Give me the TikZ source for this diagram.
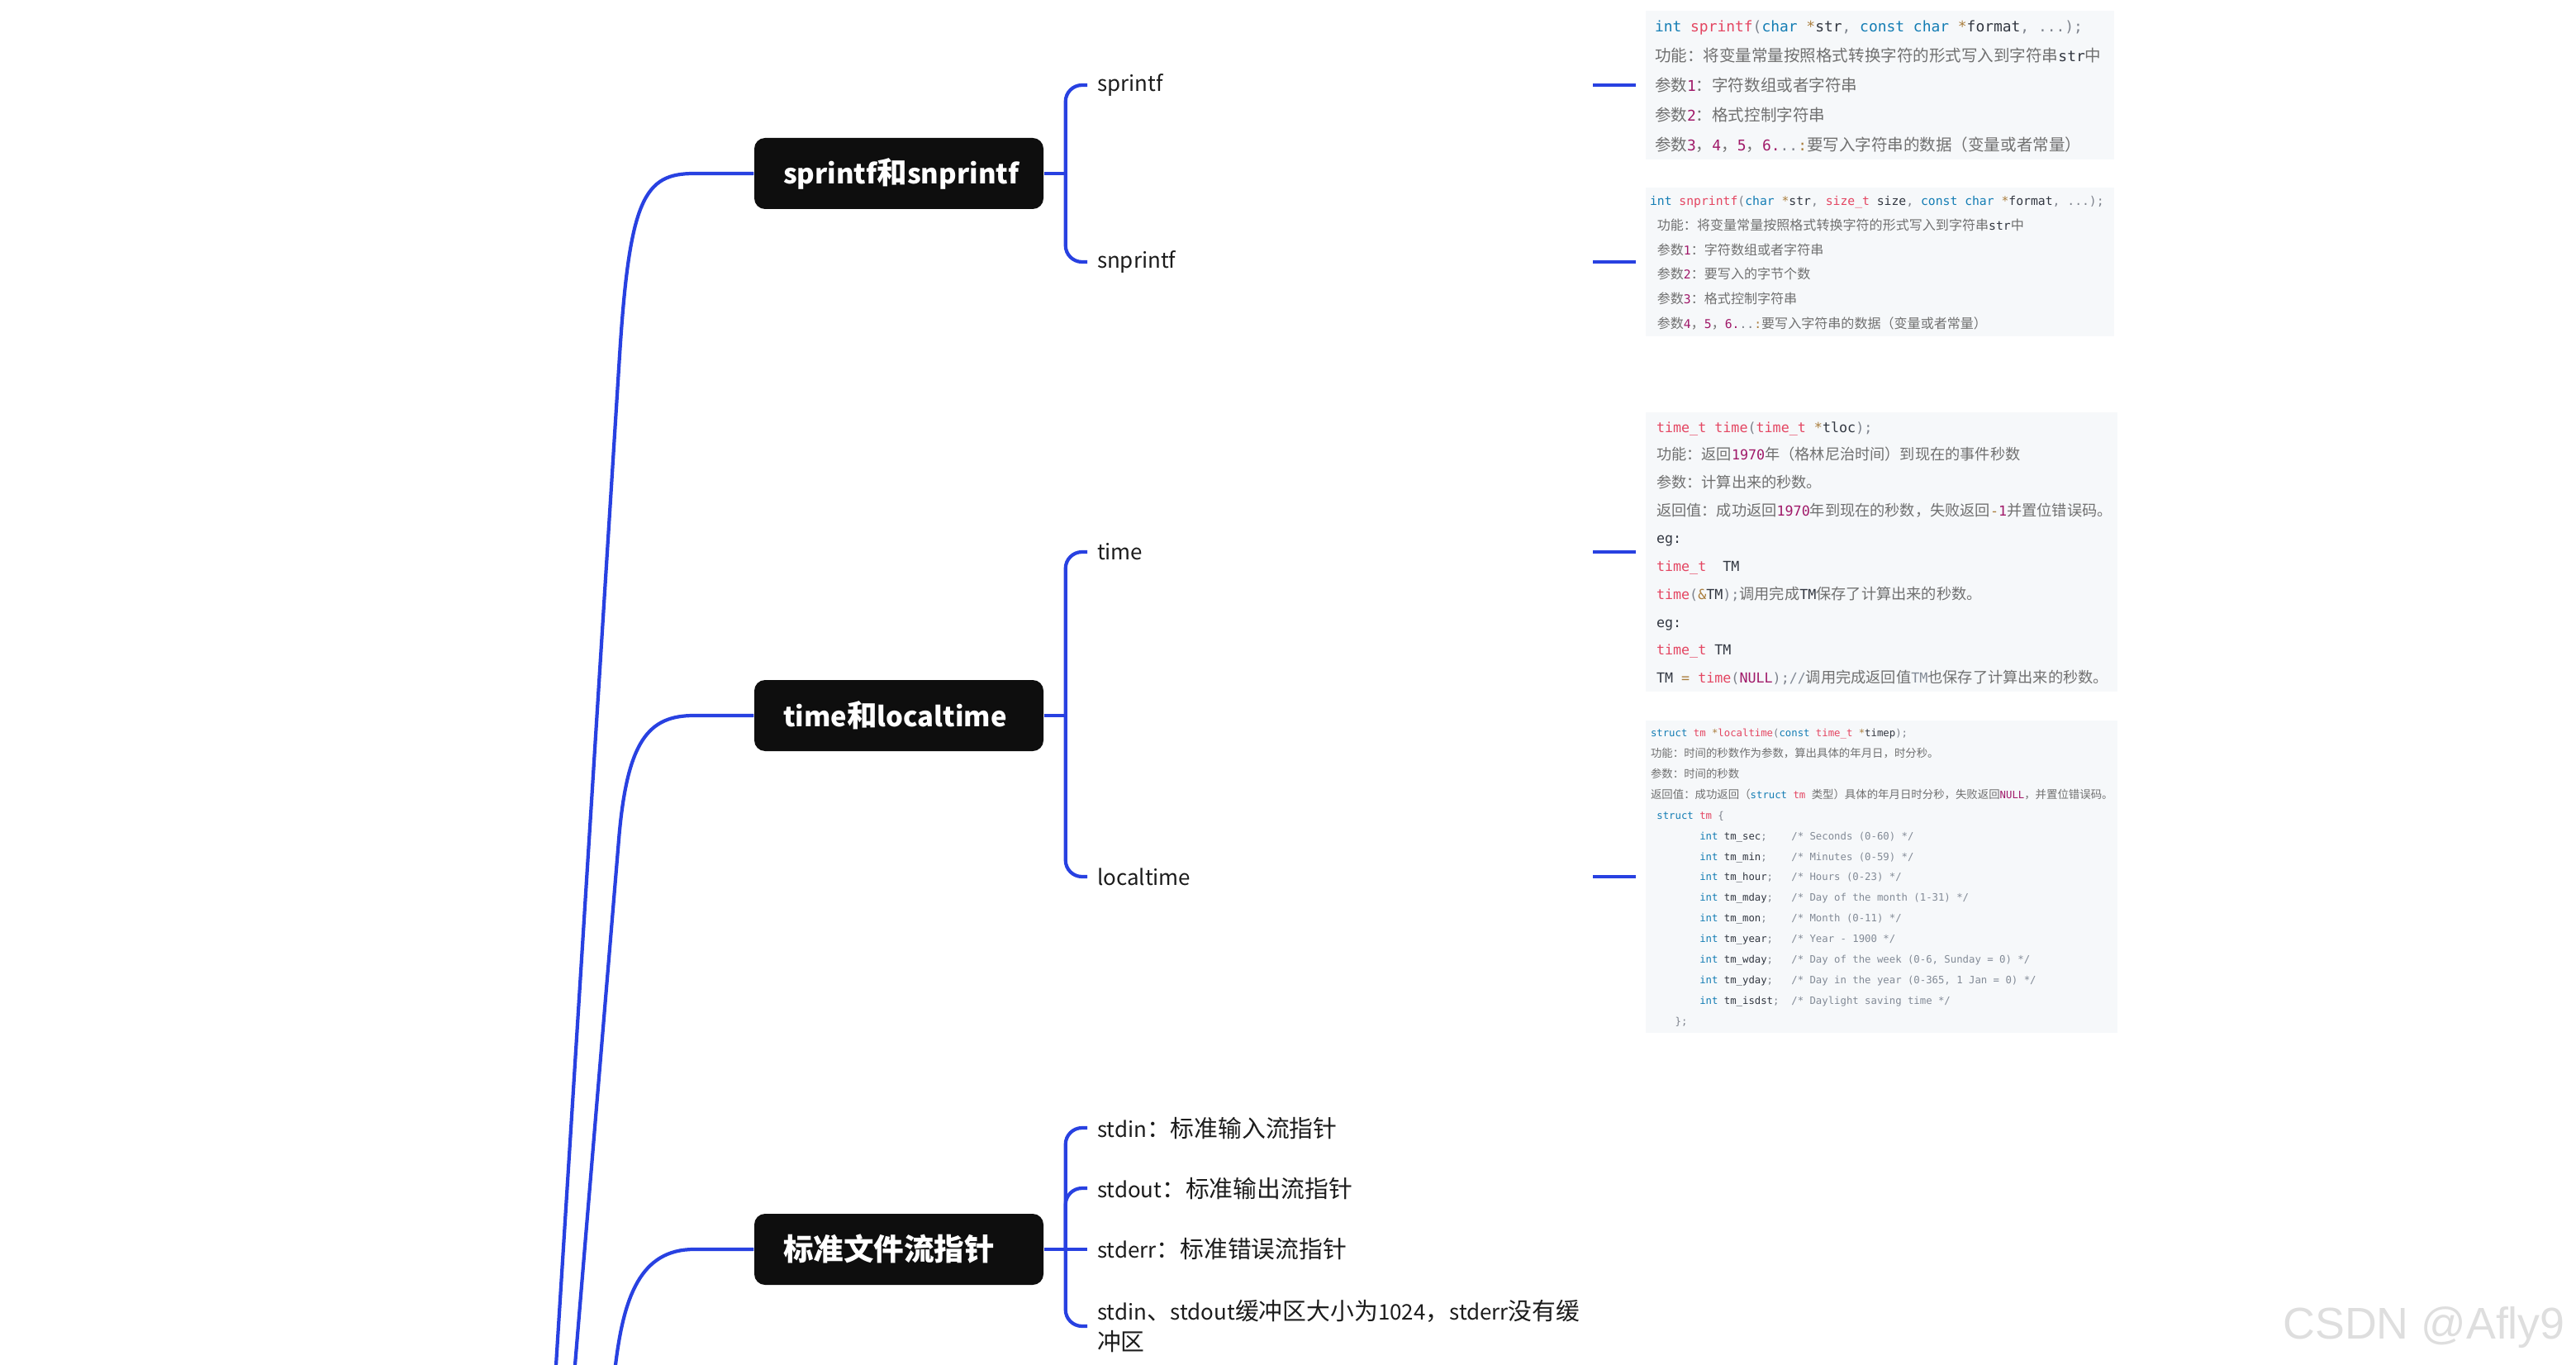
\documentclass[tikz,border=0pt]{standalone}
\usepackage{fontspec}
\setmainfont{Noto Sans CJK SC}
\setmonofont{DejaVu Sans Mono}
\newfontfamily\latinfont[Scale=0.9]{Noto Sans CJK SC}
\newfontfamily\codezh[Scale=1.09]{Noto Sans CJK SC}
\newfontfamily\wmfont{Liberation Sans}
\usepackage{tikz}

\definecolor{linkblue}{RGB}{40,65,225}
\definecolor{topicblack}{RGB}{14,14,14}
\definecolor{leafgray}{RGB}{28,28,28}
\definecolor{codebg}{RGB}{246,248,250}
\definecolor{codekw}{RGB}{20,125,180}
\definecolor{codefn}{RGB}{228,70,98}
\definecolor{codeop}{RGB}{170,125,60}
\definecolor{codenum}{RGB}{160,25,105}
\definecolor{codetx}{RGB}{50,55,65}
\definecolor{codepu}{RGB}{125,130,140}
\definecolor{codecm}{RGB}{130,138,150}
\definecolor{codezh}{RGB}{112,112,112}

% latin words in the tree labels
\newcommand{\en}[1]{{\latinfont #1}}
% colouring of the code snippets
\newcommand{\ckw}[1]{\textcolor{codekw}{#1}}
\newcommand{\cfn}[1]{\textcolor{codefn}{#1}}
\newcommand{\cop}[1]{\textcolor{codeop}{#1}}
\newcommand{\cnum}[1]{\textcolor{codenum}{#1}}
\newcommand{\cpu}[1]{\textcolor{codepu}{#1}}
\newcommand{\ccm}[1]{\textcolor{codecm}{#1}}
\newcommand{\czh}[1]{{\codezh\color{codezh}#1}}
% a space as wide as one code character
\newcommand{\monospaces}{\spaceskip=\fontcharwd\font`x\relax\xspaceskip=\spaceskip}

\tikzset{
  branch/.style={draw=linkblue, line width=1.2pt},
  topic/.style={fill=topicblack, text=white, rounded corners=0.13cm, text width=2.8cm, inner xsep=0.35cm, minimum height=0.86cm, align=left, font=\fontsize{10.4}{12}\selectfont\bfseries},
  leaf/.style={anchor=west, text=leafgray, text width=5.88cm, inner xsep=0.12cm, inner ysep=0pt, outer sep=0pt, align=left, font=\fontsize{8.2}{10.5}\selectfont},
  codebox/.style={fill=codebg, text=codetx, anchor=west, outer sep=0.12cm, inner ysep=0pt},
  watermark/.style={text=black!13, font=\wmfont\fontsize{15.3}{18}\selectfont, anchor=base}
}

\begin{document}
\begin{tikzpicture}
  \useasboundingbox (0,0) rectangle (31.18,-16.52);
  \clip (0,0) rectangle (31.18,-16.52);

  % topics
  \node[topic] (fmt) at (10.88,-2.10) {\en{sprintf}和\en{snprintf}};
  \node[topic] (clock) at (10.88,-8.66) {\en{time}和\en{localtime}};
  \node[topic] (stream) at (10.88,-15.12) {标准文件流指针};

  % leaves
  \node[leaf] (sprintf) at (13.16,-1.03) {\en{sprintf}};
  \node[leaf] (snprintf) at (13.16,-3.17) {\en{snprintf}};
  \node[leaf] (time) at (13.16,-6.68) {\en{time}};
  \node[leaf] (localtime) at (13.16,-10.61) {\en{localtime}};
  \node[leaf] (stdin) at (13.16,-13.65) {\en{stdin}：标准输入流指针};
  \node[leaf] (stdout) at (13.16,-14.38) {\en{stdout}：标准输出流指针};
  \node[leaf] (stderr) at (13.16,-15.12) {\en{stderr}：标准错误流指针};
  \node[leaf] (bufsize) at (13.16,-16.05) {\en{stdin}、\en{stdout}缓冲区大小为\en{1024}，\en{stderr}没有缓\\冲区};

  % code notes
  \node[codebox, text width=5.45cm, inner xsep=0.11cm, minimum height=1.79cm, font=\ttfamily\fontsize{5.1}{10.24}\selectfont] (sprintfcode) at (19.80,-1.03) {\monospaces
    \begin{tabular}{@{}l@{}}
    \ckw{int} \cfn{sprintf}\cpu{(}\ckw{char} \cop{*}str\cpu{, }\ckw{const} \ckw{char} \cop{*}format\cpu{, ...);}\\
    \czh{功能：将变量常量按照格式转换字符的形式写入到字符串}str\czh{中}\\
    \czh{参数}\cnum{1}\czh{：字符数组或者字符串}\\
    \czh{参数}\cnum{2}\czh{：格式控制字符串}\\
    \czh{参数}\cnum{3}\czh{，}\cnum{4}\czh{，}\cnum{5}\czh{，}\cnum{6.}\cpu{..}\cop{:}\czh{要写入字符串的数据（变量或者常量）}
    \end{tabular}};
  \node[codebox, text width=5.57cm, inner xsep=0.05cm, minimum height=1.80cm, font=\ttfamily\fontsize{4.19}{8.53}\selectfont] (snprintfcode) at (19.80,-3.17) {\monospaces
    \begin{tabular}{@{}l@{}}
    \ckw{int} \cfn{snprintf}\cpu{(}\ckw{char} \cop{*}str\cpu{, }\cfn{size\_t} size\cpu{, }\ckw{const} \ckw{char} \cop{*}format\cpu{, ...);}\\
    ~\czh{功能：将变量常量按照格式转换字符的形式写入到字符串}str\czh{中}\\
    ~\czh{参数}\cnum{1}\czh{：字符数组或者字符串}\\
    ~\czh{参数}\cnum{2}\czh{：要写入的字节个数}\\
    ~\czh{参数}\cnum{3}\czh{：格式控制字符串}\\
    ~\czh{参数}\cnum{4}\czh{，}\cnum{5}\czh{，}\cnum{6.}\cpu{..}\cop{:}\czh{要写入字符串的数据（变量或者常量）}
    \end{tabular}};
  \node[codebox, text width=5.45cm, inner xsep=0.13cm, minimum height=3.38cm, font=\ttfamily\fontsize{4.75}{9.59}\selectfont] (timecode) at (19.80,-6.68) {\monospaces
    \begin{tabular}{@{}l@{}}
    \cfn{time\_t} \cfn{time}\cpu{(}\cfn{time\_t} \cop{*}tloc\cpu{);}\\
    \czh{功能：返回}\cnum{1970}\czh{年（格林尼治时间）到现在的事件秒数}\\
    \czh{参数：计算出来的秒数。}\\
    \czh{返回值：成功返回}\cnum{1970}\czh{年到现在的秒数，失败返回}\cop{-}\cnum{1}\czh{并置位错误码。}\\
    eg:\\
    \cfn{time\_t}~~TM\\
    \cfn{time}\cpu{(}\cop{\&}TM\cpu{);}\czh{调用完成}TM\czh{保存了计算出来的秒数。}\\
    eg:\\
    \cfn{time\_t} TM\\
    TM \cop{=} \cfn{time}\cpu{(}\cnum{NULL}\cpu{);}\ccm{//}\czh{调用完成返回值}\ccm{TM}\czh{也保存了计算出来的秒数。}
    \end{tabular}};
  \node[codebox, text width=5.59cm, inner xsep=0.06cm, minimum height=3.78cm, font=\ttfamily\fontsize{3.5}{7.08}\selectfont] (localtimecode) at (19.80,-10.61) {\monospaces
    \begin{tabular}{@{}l@{}}
    \ckw{struct} \cfn{tm} \cop{*}\cfn{localtime}\cpu{(}\ckw{const} \cfn{time\_t} \cop{*}timep\cpu{);}\\
    \czh{功能：时间的秒数作为参数，算出具体的年月日，时分秒。}\\
    \czh{参数：时间的秒数}\\
    \czh{返回值：成功返回（}\ckw{struct} \cfn{tm} \czh{类型）具体的年月日时分秒，失败返回}\cnum{NULL}\czh{，并置位错误码。}\\
    ~\ckw{struct} \cfn{tm} \cpu{\{}\\
    ~~~~~~~~\ckw{int} tm\_sec\cpu{;}~~~~\ccm{/* Seconds (0-60) */}\\
    ~~~~~~~~\ckw{int} tm\_min\cpu{;}~~~~\ccm{/* Minutes (0-59) */}\\
    ~~~~~~~~\ckw{int} tm\_hour\cpu{;}~~~\ccm{/* Hours (0-23) */}\\
    ~~~~~~~~\ckw{int} tm\_mday\cpu{;}~~~\ccm{/* Day of the month (1-31) */}\\
    ~~~~~~~~\ckw{int} tm\_mon\cpu{;}~~~~\ccm{/* Month (0-11) */}\\
    ~~~~~~~~\ckw{int} tm\_year\cpu{;}~~~\ccm{/* Year - 1900 */}\\
    ~~~~~~~~\ckw{int} tm\_wday\cpu{;}~~~\ccm{/* Day of the week (0-6, Sunday = 0) */}\\
    ~~~~~~~~\ckw{int} tm\_yday\cpu{;}~~~\ccm{/* Day in the year (0-365, 1 Jan = 0) */}\\
    ~~~~~~~~\ckw{int} tm\_isdst\cpu{;}~~\ccm{/* Daylight saving time */}\\
    ~~~~\cpu{\};}
    \end{tabular}};

  % trunk from the (off-page) root
  \coordinate (root1) at (6.70,-17.00);
  \coordinate (root2) at (6.92,-17.00);
  \coordinate (root3) at (7.45,-16.52);
  \draw[branch] (root1) -- (7.50,-4.30) .. controls (7.62,-2.40) and (7.80,-2.10) .. (8.40,-2.10) -- (fmt.west);
  \draw[branch] (root2) -- (7.49,-10.16) .. controls (7.59,-8.96) and (7.85,-8.66) .. (8.40,-8.66) -- (clock.west);
  \draw[branch] (root3) .. controls (7.55,-15.70) and (7.75,-15.12) .. (8.40,-15.12) -- (stream.west);

  % brackets
  \coordinate (fmthub) at ([xshift=0.26cm]fmt.east);
  \coordinate (clockhub) at ([xshift=0.26cm]clock.east);
  \coordinate (streamhub) at ([xshift=0.26cm]stream.east);
  \draw[branch] (fmt.east) -- (fmthub);
  \draw[branch] (clock.east) -- (clockhub);
  \draw[branch] (stream.east) -- (streamhub);
  \draw[branch, rounded corners=0.2cm] (fmthub) |- (sprintf.west);
  \draw[branch, rounded corners=0.2cm] (fmthub) |- (snprintf.west);
  \draw[branch, rounded corners=0.2cm] (clockhub) |- (time.west);
  \draw[branch, rounded corners=0.2cm] (clockhub) |- (localtime.west);
  \draw[branch, rounded corners=0.2cm] (streamhub) |- (stdin.west);
  \draw[branch, rounded corners=0.2cm] (streamhub) |- (stdout.west);
  \draw[branch] (streamhub) -- (stderr.west);
  \draw[branch, rounded corners=0.2cm] (streamhub) |- (bufsize.west);

  % leaf to note
  \draw[branch] (sprintf.east) -- (sprintfcode.west);
  \draw[branch] (snprintf.east) -- (snprintfcode.west);
  \draw[branch] (time.east) -- (timecode.west);
  \draw[branch] (localtime.east) -- (localtimecode.west);

  \node[watermark] (mark) at (29.34,-16.20) {CSDN @Afly9};
\end{tikzpicture}
\end{document}
